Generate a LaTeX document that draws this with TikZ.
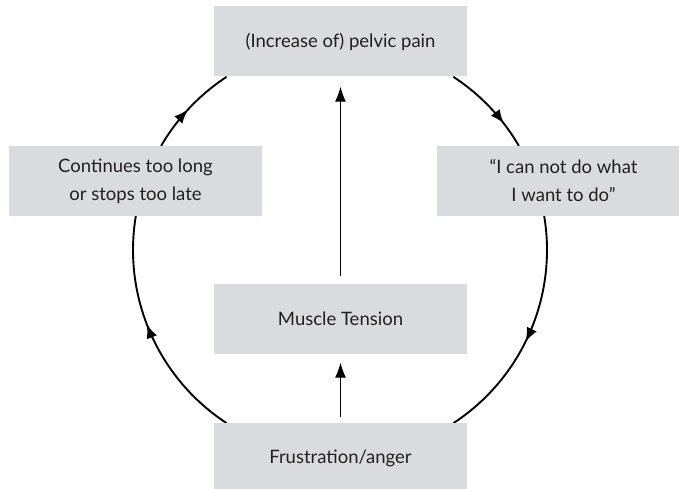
\documentclass[tikz,border=0pt]{standalone}
\usepackage{fontspec}
\setmainfont{Lato}
\usepackage{xcolor}
\usetikzlibrary{arrows.meta,decorations.markings}

\definecolor{boxgray}{RGB}{218,219,222}
\definecolor{textgray}{RGB}{35,31,32}

\begin{document}
\begin{tikzpicture}[x=1pt,y=1pt,
		box/.style={fill=boxgray, minimum width=253pt, minimum height=70pt, inner sep=0pt, align=center, text=textgray, font=\fontsize{18.5}{28}\selectfont},
		cycarc/.style={line width=1.9pt, postaction={decorate}, decoration={markings, mark=at position #1 with {\arrow{Latex[length=14pt,width=11pt]}}}},
		pushline/.style={line width=1.1pt, -{Latex[length=15pt,width=11pt]}}]
				\useasboundingbox (0,0) rectangle (679,488);
				\clip (0,0) rectangle (679,488);
				
				\coordinate (c) at (340,238);
				
				% the loop round the boxes
				\draw [cycarc=0.54] ([shift={(236.8:207pt)}]c) arc [start angle=236.8, end angle=170.5, radius=207pt];
				\draw [cycarc=0.47] ([shift={(149.8:207pt)}]c) arc [start angle=149.8, end angle=123.2, radius=207pt];
				\draw [cycarc=0.72] ([shift={(56.8:207pt)}]c) arc [start angle=56.8, end angle=30.2, radius=207pt];
				\draw [cycarc=0.54] ([shift={(9.5:207pt)}]c) arc [start angle=9.5, end angle=-56.8, radius=207pt];
				
				\node [box] (pain) at (340.5,446.5) {(Increase of) pelvic pain};
				\node [box] (cont) at (135.5,307) {Continues too long\\or stops too late};
				\node [box] (cannot) at (563.5,307) {“I can not do what\\I want to do”};
				\node [box] (tension) at (340.5,169.5) {Muscle Tension};
				\node [box] (frust) at (340.5,30) {Frustration/anger};
				
				\draw [pushline] ([yshift=7pt]tension.north) -- ([yshift=-10pt]pain.south);
				\draw [pushline] ([yshift=6pt]frust.north) -- ([yshift=-9pt]tension.south);
\end{tikzpicture}
\end{document}
